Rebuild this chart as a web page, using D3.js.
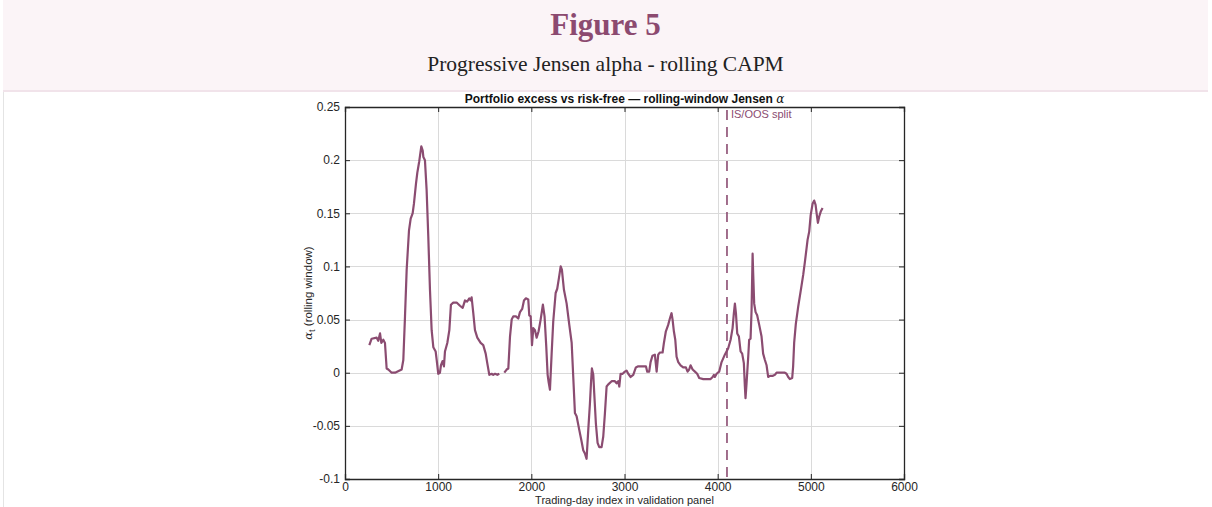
<!DOCTYPE html>
<html>
<head>
<meta charset="utf-8">
<script src="https://cdn.jsdelivr.net/npm/d3@7"></script>
<style>
  html, body { margin: 0; padding: 0; background: #fff; }
  body { width: 1212px; height: 507px; position: relative; overflow: hidden; }
  .header {
    position: absolute; left: 3px; top: 0; width: 1205px; height: 90px;
    background: #fbf4f7; border-bottom: 2px solid #f1e3ea;
    text-align: center; font-family: "Liberation Serif", serif;
  }
  .header .fig { position: absolute; left: 0; right: 0; top: 7px; font-size: 31px; font-weight: bold; color: #8c4a70; }
  .header .sub { position: absolute; left: 0; right: 0; top: 52px; font-size: 21.5px; color: #222; }
  .frame { position: absolute; left: 3px; top: 92px; width: 1px; height: 415px; background: #e4e4e4; }
  svg { position: absolute; left: 0; top: 0; }
  .tick text { font-family: "Liberation Sans", Arial, sans-serif; font-size: 12px; fill: #262626; }
</style>
</head>
<body>
<div class="header">
  <div class="fig">Figure 5</div>
  <div class="sub">Progressive Jensen alpha - rolling CAPM</div>
</div>
<div class="frame"></div>
<svg id="chart" width="1212" height="507"></svg>
<script>
// trading-day index and rolling alpha (null = gap)
const days = [
  261, 286, 340, 357, 376, 390, 411, 429, 447, 465, 501, 537, 608, 626, 644, 662, 687, 705, 726, 740,
  762, 776, 797, 819, 834, 841, 858, 876, 894, 912, 930, 948, 973, 984, 1001, 1019, 1030, 1048, 1062, 1073,
  1098, 1120, 1137, 1162, 1198, 1234, 1263, 1288, 1312, 1334, 1349, 1359, 1377, 1395, 1420, 1456, 1484, 1510, 1527, 1549,
  1574, 1591, 1610, 1635, 1656, 1683, 1710, 1735, 1753, 1771, 1789, 1806, 1835, 1860, 1878, 1902, 1921, 1942, 1967, 1978,
  1993, 2007, 2021, 2039, 2057, 2078, 2100, 2124, 2142, 2160, 2175, 2186, 2200, 2218, 2235, 2261, 2278, 2296, 2315, 2328,
  2350, 2379, 2406, 2433, 2450, 2468, 2486, 2515, 2540, 2557, 2575, 2593, 2611, 2629, 2640, 2650, 2665, 2675, 2693, 2711,
  2729, 2754, 2772, 2790, 2808, 2826, 2862, 2897, 2915, 2933, 2944, 2958, 2980, 3004, 3022, 3040, 3066, 3094, 3122, 3147,
  3201, 3230, 3244, 3265, 3280, 3300, 3326, 3345, 3362, 3380, 3409, 3423, 3444, 3469, 3487, 3505, 3516, 3530, 3545, 3559,
  3577, 3602, 3630, 3659, 3677, 3694, 3709, 3731, 3756, 3780, 3802, 3845, 3898, 3924, 3946, 3960, 3970, 3989, 4016, 4042,
  4077, 4113, 4139, 4160, 4174, 4185, 4196, 4210, 4228, 4246, 4263, 4281, 4292, 4299, 4310, 4328, 4338, 4353, 4364, 4375,
  4381, 4392, 4407, 4424, 4446, 4471, 4488, 4507, 4525, 4542, 4560, 4589, 4614, 4632, 4668, 4721, 4739, 4757, 4775, 4800,
  4810, 4821, 4839, 4864, 4893, 4918, 4936, 4954, 4965, 4983, 4998, 5019, 5036, 5051, 5065, 5076, 5090, 5108, 5126
]
const alpha = [
  0.026, 0.032, 0.033, 0.030, 0.037, 0.028, 0.031, 0.028, 0.004, 0.003, 0.000, 0.000, 0.003, 0.012, 0.053, 0.097, 0.134, 0.145, 0.150, 0.159,
  0.178, 0.188, 0.199, 0.213, 0.209, 0.203, 0.200, 0.172, 0.128, 0.078, 0.040, 0.024, 0.020, 0.012, -0.001, 0.000, 0.007, 0.011, 0.006, 0.020,
  0.028, 0.040, 0.064, 0.066, 0.066, 0.063, 0.061, 0.068, 0.067, 0.070, 0.068, 0.071, 0.056, 0.040, 0.033, 0.028, 0.026, 0.018, 0.009, -0.002,
  -0.001, -0.002, -0.001, -0.002, -0.001, null, 0.000, 0.003, 0.004, 0.034, 0.050, 0.053, 0.053, 0.051, 0.057, 0.060, 0.068, 0.070, 0.069, 0.054,
  0.053, 0.026, 0.042, 0.040, 0.033, 0.039, 0.050, 0.064, 0.053, 0.025, -0.002, -0.009, -0.016, 0.018, 0.048, 0.075, 0.079, 0.089, 0.100, 0.097,
  0.078, 0.065, 0.046, 0.028, -0.004, -0.038, -0.041, -0.054, -0.065, -0.073, -0.076, -0.081, -0.054, -0.029, -0.010, 0.004, -0.002, -0.019, -0.048, -0.066,
  -0.070, -0.070, -0.060, -0.038, -0.013, -0.011, -0.008, -0.008, -0.010, -0.008, -0.013, -0.001, -0.001, 0.001, 0.002, -0.001, -0.004, -0.002, 0.005, 0.006,
  0.006, 0.006, 0.001, 0.001, 0.010, 0.016, 0.017, 0.001, 0.017, 0.019, 0.019, 0.028, 0.039, 0.045, 0.051, 0.056, 0.050, 0.039, 0.031, 0.015,
  0.010, 0.007, 0.005, 0.005, 0.001, 0.003, 0.007, 0.003, 0.001, -0.001, -0.005, -0.006, -0.006, -0.006, -0.004, -0.002, -0.004, -0.001, 0.001, 0.010,
  0.017, 0.023, 0.031, 0.042, 0.056, 0.065, 0.056, 0.037, 0.034, 0.020, 0.018, 0.009, -0.013, -0.024, -0.010, 0.015, 0.031, 0.032, 0.059, 0.112,
  0.094, 0.065, 0.057, 0.054, 0.045, 0.034, 0.018, 0.012, 0.007, -0.004, -0.003, -0.003, -0.002, 0.000, 0.000, 0.000, -0.001, -0.004, -0.006, -0.005,
  0.006, 0.028, 0.046, 0.062, 0.078, 0.092, 0.104, 0.117, 0.125, 0.133, 0.148, 0.159, 0.162, 0.158, 0.148, 0.141, 0.147, 0.152, 0.155
]
const xTicks = [0, 1000, 2000, 3000, 4000, 5000, 6000]
const yTicks = [-0.1, -0.05, 0, 0.05, 0.1, 0.15, 0.2, 0.25]
const splitDay = 4100

const colour = "#8b4c71"
const plot = { left: 345, right: 904, top: 107, bottom: 479 }

const svg = d3.select("#chart")
const x = d3.scaleLinear().domain([0, 6000]).range([plot.left, plot.right])
const y = d3.scaleLinear().domain([-0.1, 0.25]).range([plot.bottom, plot.top])

// grid
const grid = svg.append("g").attr("stroke", "#dadada").attr("stroke-width", 1)
grid.selectAll(".gx").data(xTicks.slice(1, -1)).join("line")
  .attr("x1", (d) => Math.round(x(d)) + 0.5).attr("x2", (d) => Math.round(x(d)) + 0.5)
  .attr("y1", plot.top).attr("y2", plot.bottom)
grid.selectAll(".gy").data(yTicks.slice(1, -1)).join("line")
  .attr("y1", (d) => Math.round(y(d)) + 0.5).attr("y2", (d) => Math.round(y(d)) + 0.5)
  .attr("x1", plot.left).attr("x2", plot.right)

const fmtY = (d) => (d === 0 ? "0" : String(d))

// axes, ticks pointing in
svg.append("g").attr("transform", `translate(0,${plot.bottom})`)
  .call(d3.axisBottom(x).tickValues(xTicks).tickSize(-5).tickPadding(3).tickFormat(d3.format("d")))
svg.append("g").attr("transform", `translate(0,${plot.top})`)
  .call(d3.axisTop(x).tickValues(xTicks).tickSize(-5).tickFormat(""))
svg.append("g").attr("transform", `translate(${plot.left},0)`)
  .call(d3.axisLeft(y).tickValues(yTicks).tickSize(-5).tickPadding(5).tickFormat(fmtY))
svg.append("g").attr("transform", `translate(${plot.right},0)`)
  .call(d3.axisRight(y).tickValues(yTicks).tickSize(-5).tickFormat(""))
svg.selectAll(".domain").attr("stroke", "#262626").attr("stroke-width", 1.3)
svg.selectAll(".tick line").attr("stroke", "#262626")

// split marker
svg.append("line")
  .attr("x1", x(splitDay)).attr("x2", x(splitDay))
  .attr("y1", plot.top + 3).attr("y2", plot.bottom)
  .attr("stroke", colour).attr("stroke-width", 1.6).attr("stroke-dasharray", "10,7")
svg.append("text")
  .attr("x", x(splitDay) + 4).attr("y", plot.top + 11)
  .attr("font-family", "Liberation Sans, Arial, sans-serif").attr("font-size", 11)
  .attr("fill", colour).text("IS/OOS split")

// alpha series
const pts = days.map((d, i) => ({ day: d, a: alpha[i] }))
const line = d3.line()
  .defined((d) => d.a !== null)
  .x((d) => x(d.day))
  .y((d) => y(d.a))
svg.append("path").datum(pts)
  .attr("fill", "none").attr("stroke", colour).attr("stroke-width", 2.2)
  .attr("stroke-linejoin", "round").attr("d", line)

// titles
const title = svg.append("text")
  .attr("x", (plot.left + plot.right) / 2).attr("y", plot.top - 4)
  .attr("text-anchor", "middle").attr("font-family", "Liberation Sans, Arial, sans-serif")
  .attr("font-size", 12).attr("font-weight", "bold").attr("fill", "#111")
title.append("tspan").text("Portfolio excess vs risk-free \u2014 rolling-window Jensen ")
title.append("tspan").attr("font-family", "DejaVu Serif, serif").attr("font-style", "italic")
  .attr("font-weight", "normal").text("\u03b1")

svg.append("text")
  .attr("x", (plot.left + plot.right) / 2).attr("y", 504)
  .attr("text-anchor", "middle").attr("font-family", "Liberation Sans, Arial, sans-serif")
  .attr("font-size", 11).attr("fill", "#262626")
  .text("Trading-day index in validation panel")

const yl = svg.append("text")
  .attr("transform", `translate(312,${(plot.top + plot.bottom) / 2}) rotate(-90)`)
  .attr("text-anchor", "middle").attr("font-family", "Liberation Sans, Arial, sans-serif")
  .attr("font-size", 11.5).attr("fill", "#262626")
yl.append("tspan").attr("font-family", "DejaVu Serif, serif").attr("font-style", "italic").text("\u03b1")
yl.append("tspan").attr("dy", 3).attr("font-size", 9).text("t")
yl.append("tspan").attr("dy", -3).text(" (rolling window)")
</script>
</body>
</html>
